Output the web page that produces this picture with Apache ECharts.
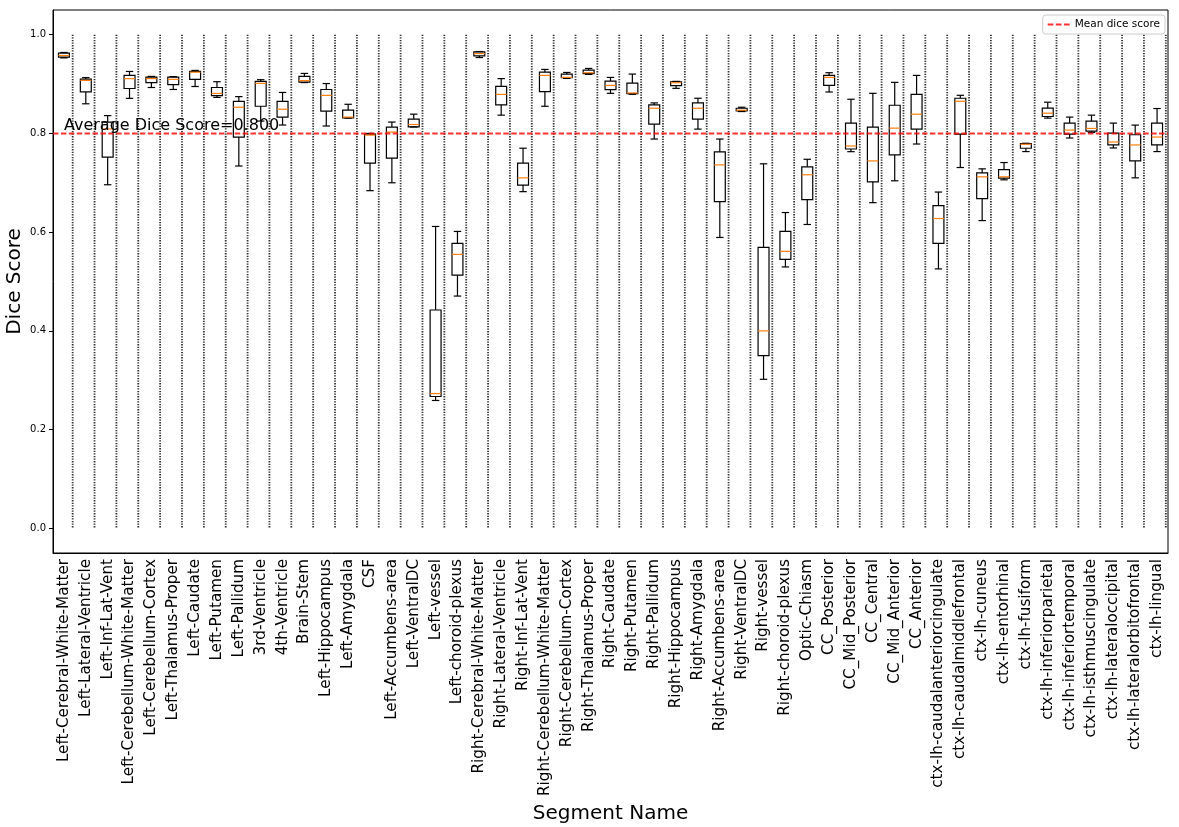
<!DOCTYPE html>
<html>
<head>
<meta charset="utf-8">
<script src="https://cdn.jsdelivr.net/npm/echarts@6/dist/echarts.min.js"></script>
<style>
  html, body { margin: 0; padding: 0; background: #fff; }
  #chart { width: 1179px; height: 827px; }
</style>
</head>
<body>
<div id="chart"></div>
<script>
// segment names (x categories)
const segments = [
  'Left-Cerebral-White-Matter', 'Left-Lateral-Ventricle', 'Left-Inf-Lat-Vent',
  'Left-Cerebellum-White-Matter', 'Left-Cerebellum-Cortex', 'Left-Thalamus-Proper',
  'Left-Caudate', 'Left-Putamen', 'Left-Pallidum', '3rd-Ventricle', '4th-Ventricle',
  'Brain-Stem', 'Left-Hippocampus', 'Left-Amygdala', 'CSF', 'Left-Accumbens-area',
  'Left-VentralDC', 'Left-vessel', 'Left-choroid-plexus', 'Right-Cerebral-White-Matter',
  'Right-Lateral-Ventricle', 'Right-Inf-Lat-Vent', 'Right-Cerebellum-White-Matter',
  'Right-Cerebellum-Cortex', 'Right-Thalamus-Proper', 'Right-Caudate', 'Right-Putamen',
  'Right-Pallidum', 'Right-Hippocampus', 'Right-Amygdala', 'Right-Accumbens-area',
  'Right-VentralDC', 'Right-vessel', 'Right-choroid-plexus', 'Optic-Chiasm',
  'CC_Posterior', 'CC_Mid_Posterior', 'CC_Central', 'CC_Mid_Anterior', 'CC_Anterior',
  'ctx-lh-caudalanteriorcingulate', 'ctx-lh-caudalmiddlefrontal', 'ctx-lh-cuneus',
  'ctx-lh-entorhinal', 'ctx-lh-fusiform', 'ctx-lh-inferiorparietal',
  'ctx-lh-inferiortemporal', 'ctx-lh-isthmuscingulate', 'ctx-lh-lateraloccipital',
  'ctx-lh-lateralorbitofrontal', 'ctx-lh-lingual'
]

// box statistics per segment (whisker low, Q1, median, Q3, whisker high)
const whiskerLow = [0.953, 0.860, 0.696, 0.871, 0.893, 0.889, 0.895, 0.873, 0.734, 0.825,
  0.817, 0.903, 0.815, 0.831, 0.684, 0.700, 0.813, 0.259, 0.4705, 0.9537,
  0.837, 0.682, 0.855, 0.9114, 0.9195, 0.8812, 0.8792, 0.7886, 0.8913, 0.8087,
  0.5892, 0.8443, 0.3019, 0.5295, 0.6155, 0.8839, 0.763, 0.6597, 0.704, 0.7785,
  0.5255, 0.7309, 0.6234, 0.706, 0.7632, 0.831, 0.7907, 0.802, 0.7705, 0.710, 0.7632]
const q1 = [0.9544, 0.884, 0.752, 0.891, 0.903, 0.899, 0.9095, 0.8765, 0.7926, 0.855,
  0.833, 0.904, 0.845, 0.8316, 0.740, 0.750, 0.8134, 0.267, 0.5128, 0.957,
  0.858, 0.6953, 0.8846, 0.9128, 0.921, 0.8886, 0.8806, 0.8188, 0.8967, 0.8289,
  0.6617, 0.8457, 0.3497, 0.545, 0.6659, 0.8973, 0.7684, 0.702, 0.7564, 0.8087,
  0.5772, 0.7987, 0.6677, 0.7094, 0.7699, 0.8343, 0.7987, 0.8048, 0.7766, 0.7443, 0.7766]
const median = [0.9578, 0.9074, 0.809, 0.911, 0.911, 0.9095, 0.924, 0.881, 0.853, 0.9014,
  0.849, 0.907, 0.877, 0.833, 0.7966, 0.8027, 0.818, 0.273, 0.555, 0.9618,
  0.879, 0.710, 0.9175, 0.9135, 0.9229, 0.8973, 0.8819, 0.851, 0.9027, 0.851,
  0.7362, 0.847, 0.400, 0.5611, 0.7162, 0.9135, 0.7745, 0.7443, 0.8107, 0.8389,
  0.6276, 0.8651, 0.712, 0.7121, 0.778, 0.841, 0.8068, 0.8101, 0.7826, 0.7766, 0.7926]
const q3 = [0.9625, 0.910, 0.823, 0.9175, 0.914, 0.914, 0.9255, 0.893, 0.865, 0.9054,
  0.865, 0.9155, 0.889, 0.847, 0.7987, 0.8128, 0.829, 0.4423, 0.5772, 0.965,
  0.8953, 0.740, 0.924, 0.920, 0.928, 0.906, 0.902, 0.8577, 0.9047, 0.8618,
  0.7624, 0.851, 0.5692, 0.6014, 0.7323, 0.9175, 0.8208, 0.8128, 0.857, 0.8792,
  0.6538, 0.8712, 0.7201, 0.7268, 0.7793, 0.8511, 0.8209, 0.8249, 0.8007, 0.7973, 0.8209]
const whiskerHigh = [0.964, 0.913, 0.836, 0.9255, 0.9155, 0.915, 0.9276, 0.9047, 0.8745, 0.9088,
  0.883, 0.9215, 0.901, 0.859, 0.800, 0.823, 0.839, 0.6115, 0.6014, 0.9658,
  0.911, 0.770, 0.9296, 0.9235, 0.9316, 0.9134, 0.9202, 0.8618, 0.9054, 0.8712,
  0.7886, 0.853, 0.7384, 0.6397, 0.7476, 0.9229, 0.8692, 0.8812, 0.9034, 0.9175,
  0.6812, 0.8772, 0.7282, 0.741, 0.780, 0.8632, 0.833, 0.837, 0.8209, 0.8168, 0.8504]

const meanScore = 0.800
const yTicks = [0.0, 0.2, 0.4, 0.6, 0.8, 1.0]

const font = 'DejaVu Sans'
const meanColor = 'rgba(255,0,0,0.8)'
const chart = echarts.init(document.getElementById('chart'))

// rows for the custom box series: [index, low, q1, median, q3, high]
const boxRows = segments.map((_, i) => [i, whiskerLow[i], q1[i], median[i], q3[i], whiskerHigh[i]])
// dotted separators sit 0.4 to the right of each box (1-based positions)
const separatorRows = segments.map((_, i) => [i + 1.4])

const renderBox = (params, api) => {
  const idx = api.value(0)
  const band = api.size([1, 0])[0]
  const half = band * 0.25
  const capHalf = band * 0.17
  const pLow = api.coord([idx, api.value(1)])
  const pQ1 = api.coord([idx, api.value(2)])
  const pMed = api.coord([idx, api.value(3)])
  const pQ3 = api.coord([idx, api.value(4)])
  const pHigh = api.coord([idx, api.value(5)])
  const x = pQ1[0]
  const black = { stroke: '#000', lineWidth: 1.2, fill: null }
  return {
    type: 'group',
    children: [
      { type: 'line', shape: { x1: x, y1: pQ1[1], x2: x, y2: pLow[1] }, style: black },
      { type: 'line', shape: { x1: x, y1: pQ3[1], x2: x, y2: pHigh[1] }, style: black },
      { type: 'line', shape: { x1: x - capHalf, y1: pLow[1], x2: x + capHalf, y2: pLow[1] }, style: black },
      { type: 'line', shape: { x1: x - capHalf, y1: pHigh[1], x2: x + capHalf, y2: pHigh[1] }, style: black },
      { type: 'rect', shape: { x: x - half, y: pQ3[1], width: half * 2, height: pQ1[1] - pQ3[1] },
        style: { stroke: '#000', lineWidth: 1.2, fill: 'none' } },
      { type: 'line', shape: { x1: x - half, y1: pMed[1], x2: x + half, y2: pMed[1] },
        style: { stroke: '#ff7f0e', lineWidth: 1.2 } }
    ]
  }
}

const renderSeparator = (params, api) => {
  const top = api.coord([api.value(0), 1.0])
  const bottom = api.coord([api.value(0), 0.0])
  return {
    type: 'line',
    shape: { x1: top[0], y1: top[1], x2: bottom[0], y2: bottom[1] },
    style: { stroke: '#333', lineWidth: 1.8, lineDash: [1.3, 1.3] }
  }
}

const option = {
  backgroundColor: '#fff',
  animation: false,
  textStyle: { fontFamily: font },
  grid: {
    left: 53, right: 11, top: 10, bottom: 274,
    outerBoundsMode: 'none',
    containLabel: false,
    show: true, borderColor: '#000', borderWidth: 1, backgroundColor: 'transparent'
  },
  legend: {
    right: 14, top: 15,
    data: [{
      name: 'Mean dice score',
      icon: 'path://M0,0h6v2h-6zM8.5,0h6v2h-6zM17,0h6v2h-6z'
    }],
    itemWidth: 22, itemHeight: 2,
    itemGap: 8,
    borderColor: '#ccc', borderWidth: 1, borderRadius: 3,
    padding: [4, 5], backgroundColor: 'rgba(255,255,255,0.8)',
    textStyle: { fontSize: 10.5, color: '#000', fontFamily: font }
  },
  xAxis: [
    {
      type: 'category',
      data: segments,
      name: 'Segment Name',
      nameLocation: 'middle',
      nameGap: 239,
      nameTextStyle: { fontSize: 20, color: '#000', fontFamily: font },
      axisLine: { onZero: false, lineStyle: { color: '#000' } },
      axisTick: { alignWithLabel: true, length: 4, lineStyle: { color: '#000' } },
      axisLabel: { rotate: 90, interval: 0, fontSize: 15.2, color: '#000', margin: 6, fontFamily: font },
      splitLine: { show: false }
    },
    {
      type: 'value',
      min: 0.5, max: 51.5,
      show: false
    }
  ],
  yAxis: {
    type: 'value',
    min: -0.05, max: 1.05,
    name: 'Dice Score',
    nameLocation: 'middle',
    nameGap: 28,
    nameMoveOverlap: false,
    nameTextStyle: { fontSize: 20, color: '#000', fontFamily: font },
    axisLine: { show: true, onZero: false, lineStyle: { color: '#000' } },
    axisTick: { show: true, length: 4, customValues: yTicks, lineStyle: { color: '#000' } },
    axisLabel: {
      fontSize: 10, color: '#000', margin: 7, fontFamily: font,
      customValues: yTicks,
      formatter: v => v.toFixed(1)
    },
    splitLine: { show: false }
  },
  series: [
    {
      name: 'separators',
      type: 'custom',
      xAxisIndex: 1,
      data: separatorRows,
      encode: { x: 0 },
      renderItem: renderSeparator,
      silent: true,
      z: 1
    },
    {
      name: 'Dice',
      type: 'custom',
      xAxisIndex: 0,
      data: boxRows,
      encode: { x: 0, y: [1, 2, 3, 4, 5] },
      renderItem: renderBox,
      silent: true,
      z: 2
    },
    {
      name: 'Mean dice score',
      type: 'line',
      xAxisIndex: 1,
      data: [[0.5, meanScore], [51.5, meanScore]],
      symbol: 'none',
      lineStyle: { color: meanColor, width: 2, type: [5.5, 2.4] },
      itemStyle: { color: meanColor },
      silent: true,
      z: 3
    },
    {
      name: 'avgText',
      type: 'scatter',
      xAxisIndex: 1,
      data: [[1, meanScore]],
      symbolSize: 0,
      silent: true,
      itemStyle: { opacity: 1 },
      label: {
        show: true,
        position: [0, 0],
        align: 'left',
        verticalAlign: 'bottom',
        fontSize: 16,
        color: '#000',
        opacity: 1,
        fontFamily: font,
        formatter: 'Average Dice Score=' + meanScore.toFixed(3)
      },
      z: 4
    }
  ]
}

chart.setOption(option)
window.addEventListener('resize', () => chart.resize())
</script>
</body>
</html>
